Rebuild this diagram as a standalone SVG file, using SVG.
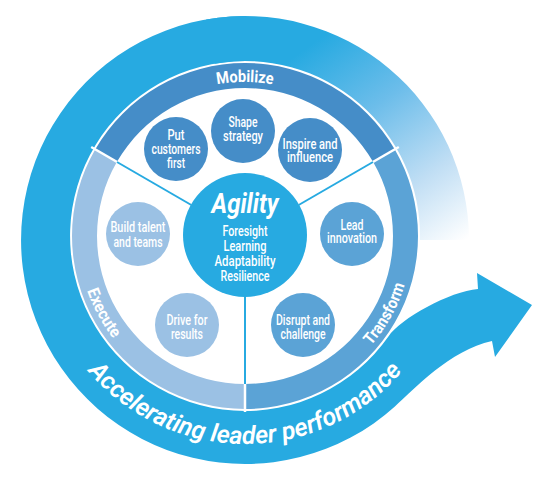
<svg xmlns="http://www.w3.org/2000/svg" width="551" height="490" viewBox="0 0 551 490">
<defs>
<linearGradient id="fade" gradientUnits="userSpaceOnUse" x1="325" y1="35" x2="468" y2="238">
<stop offset="0" stop-color="#27aae1"/>
<stop offset="0.35" stop-color="#6cbdea"/>
<stop offset="0.7" stop-color="#c0def4"/>
<stop offset="1" stop-color="#ffffff"/>
</linearGradient>
<path id="p-mob" d="M146 118 A154 154 0 0 1 344 118"/>
<path id="p-exe" d="M78.6 250.6 A167 167 0 0 0 142.2 367.6"/>
<path id="p-tra" d="M340.8 372.8 A167 167 0 0 0 411.8 244.7"/>
<path id="p-acc" d="M66.6 341 A206 206 0 0 0 423.4 341"/>
</defs>
<style>
text{font-family:Roboto,"Liberation Sans",sans-serif;fill:#fff;font-weight:700;text-anchor:middle}
.s{font-size:14px;font-weight:500}
.a{font-size:14.5px;font-weight:500}
.b{font-size:16.5px}
.acc{font-size:25px;font-style:italic;font-weight:600}
.mob{fill:#458dc8}
.tra{fill:#5ba3d6}
.exe{fill:#9bc1e4}
.sep{stroke:#fff;stroke-width:2.5}
.con{stroke:#27aae1;stroke-width:2;fill:none}
</style>
<rect width="551" height="490" fill="#fff"/>
<g id="outer-ring">
<path d="M206.1 19.4 A224 224 0 0 1 469 240 L420 240 A175 175 0 0 0 214.6 63.7 Z" fill="url(#fade)"/>
<path d="M245 16 A224 224 0 1 0 394.9 406.5 C413.5 389.8 450 350 492 341 L495 357 L532 305 L477 273 L478 289 C450 291 400 319 388.4 336.4 A175 175 0 1 1 245 61 Z" fill="#27aae1"/>
<text class="acc"><textPath href="#p-acc" startOffset="50%" textLength="358" lengthAdjust="spacingAndGlyphs">Accelerating leader performance</textPath></text>
</g>
<g id="mobilize">
<path class="mob" d="M95.18 149.5 A173 173 0 0 1 394.82 149.5 L373.17 162 A148 148 0 0 0 116.83 162 Z"/>
<text class="b"><textPath href="#p-mob" startOffset="50%" textLength="56" lengthAdjust="spacingAndGlyphs">Mobilize</textPath></text>
</g>
<g id="transform">
<path class="tra" d="M394.82 149.5 A173 173 0 0 1 245 409 L245 384 A148 148 0 0 0 373.17 162 Z"/>
<text class="b"><textPath href="#p-tra" startOffset="50%" textLength="70" lengthAdjust="spacingAndGlyphs">Transform</textPath></text>
</g>
<g id="execute">
<path class="exe" d="M245 409 A173 173 0 0 1 95.18 149.5 L116.83 162 A148 148 0 0 0 245 384 Z"/>
<text class="b"><textPath href="#p-exe" startOffset="50%" textLength="55" lengthAdjust="spacingAndGlyphs">Execute</textPath></text>
</g>
<g id="connectors">
<line class="sep" x1="91.2" y1="147" x2="118" y2="162.5"/>
<line class="sep" x1="398.8" y1="147" x2="372" y2="162.5"/>
<line class="sep" x1="245" y1="383" x2="245" y2="412"/>
<line class="con" x1="117" y1="162" x2="191.3" y2="205"/>
<line class="con" x1="373" y1="162" x2="298.7" y2="205"/>
<line class="con" x1="245" y1="296" x2="245" y2="384"/>
</g>
<g id="agility">
<circle cx="245" cy="235" r="62" fill="#27aae1"/>
<text x="245" y="213" font-size="27" font-style="italic" textLength="67" lengthAdjust="spacingAndGlyphs">Agility</text>
<text class="a" x="245" y="236" textLength="45" lengthAdjust="spacingAndGlyphs">Foresight</text>
<text class="a" x="245" y="251" textLength="43" lengthAdjust="spacingAndGlyphs">Learning</text>
<text class="a" x="245" y="266" textLength="61" lengthAdjust="spacingAndGlyphs">Adaptability</text>
<text class="a" x="245" y="281" textLength="49" lengthAdjust="spacingAndGlyphs">Resilience</text>
</g>
<g id="put-customers-first">
<circle class="mob" cx="176" cy="149" r="32"/>
<text class="s" x="176" y="139.5" textLength="17" lengthAdjust="spacingAndGlyphs">Put</text>
<text class="s" x="176" y="153.5" textLength="49" lengthAdjust="spacingAndGlyphs">customers</text>
<text class="s" x="176" y="167.5" textLength="18" lengthAdjust="spacingAndGlyphs">first</text>
</g>
<g id="shape-strategy">
<circle class="mob" cx="243" cy="131" r="32"/>
<text class="s" x="243" y="127" textLength="29" lengthAdjust="spacingAndGlyphs">Shape</text>
<text class="s" x="243" y="141" textLength="40" lengthAdjust="spacingAndGlyphs">strategy</text>
</g>
<g id="inspire-and-influence">
<circle class="mob" cx="310" cy="150" r="32"/>
<text class="s" x="310" y="148.5" textLength="55" lengthAdjust="spacingAndGlyphs">Inspire and</text>
<text class="s" x="310" y="162" textLength="46" lengthAdjust="spacingAndGlyphs">influence</text>
</g>
<g id="lead-innovation">
<circle class="tra" cx="352" cy="234" r="32"/>
<text class="s" x="352" y="229.5" textLength="23" lengthAdjust="spacingAndGlyphs">Lead</text>
<text class="s" x="352" y="243" textLength="50" lengthAdjust="spacingAndGlyphs">innovation</text>
</g>
<g id="disrupt-and-challenge">
<circle class="tra" cx="303" cy="325" r="32"/>
<text class="s" x="303" y="324.5" textLength="54" lengthAdjust="spacingAndGlyphs">Disrupt and</text>
<text class="s" x="303" y="339" textLength="45" lengthAdjust="spacingAndGlyphs">challenge</text>
</g>
<g id="build-talent-and-teams">
<circle class="exe" cx="138" cy="234" r="32"/>
<text class="s" x="138" y="232" textLength="55" lengthAdjust="spacingAndGlyphs">Build talent</text>
<text class="s" x="138" y="246.5" textLength="49" lengthAdjust="spacingAndGlyphs">and teams</text>
</g>
<g id="drive-for-results">
<circle class="exe" cx="187" cy="325" r="32"/>
<text class="s" x="187" y="325" textLength="41" lengthAdjust="spacingAndGlyphs">Drive for</text>
<text class="s" x="187" y="338.5" textLength="32" lengthAdjust="spacingAndGlyphs">results</text>
</g>
</svg>
